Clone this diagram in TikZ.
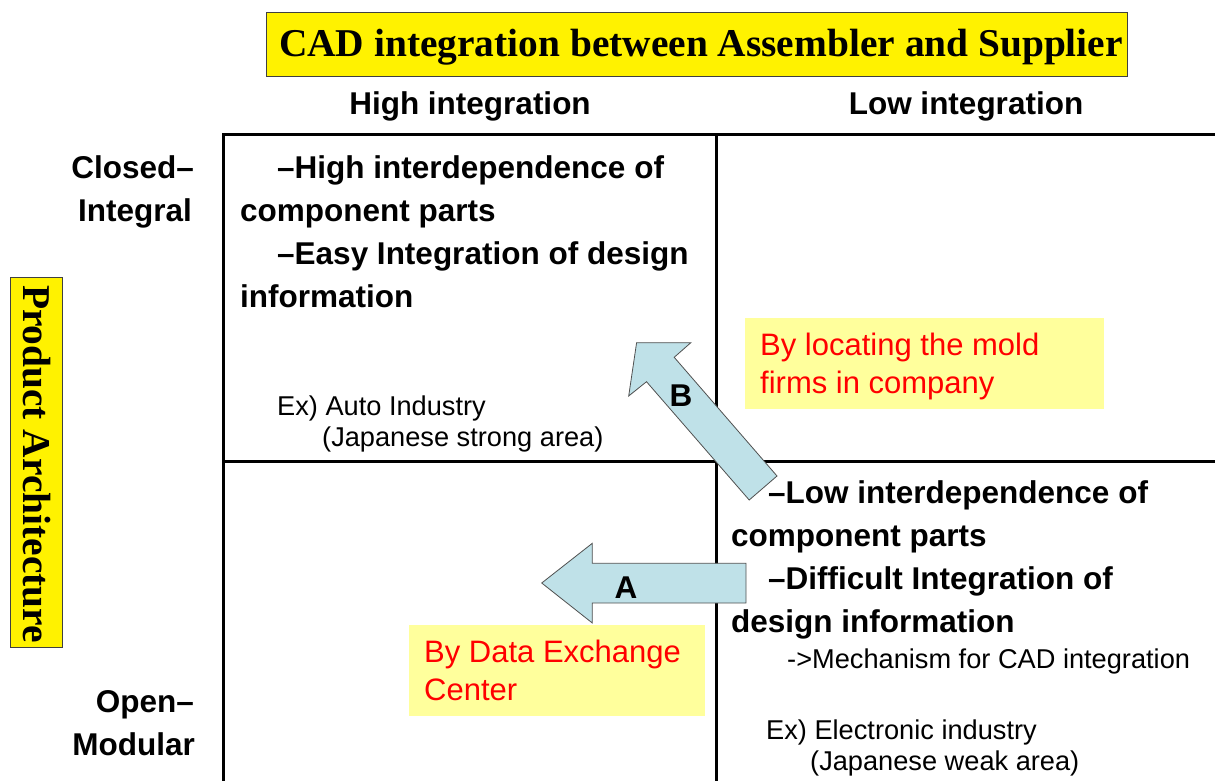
\documentclass[tikz,border=0pt]{standalone}
\usepackage{fontspec}
\setmainfont{Liberation Sans}
\newfontfamily\timesfont{Liberation Serif}
\usepackage{xcolor}

\definecolor{notefill}{HTML}{FFFF9C}
\definecolor{arrowfill}{HTML}{BFE1E8}
\definecolor{arrowline}{HTML}{505050}
\newcommand{\quadsize}{\fontsize{31.5}{37}\selectfont\bfseries}
\newcommand{\exsize}{\fontsize{27.2}{31}\selectfont}
\newcommand{\notesize}{\fontsize{31}{37}\selectfont}
\newcommand{\headsize}{\fontsize{39.4}{46}\selectfont\timesfont\bfseries}

\begin{document}
\begin{tikzpicture}[x=1pt, y=-1pt, inner sep=0pt,
  lbl/.style={anchor=base west, font=\quadsize},
  ex/.style={anchor=base west, font=\exsize},
  note/.style={anchor=base west, font=\notesize, text=red},
  gridline/.style={line width=3pt},
  blockarrow/.style={fill=arrowfill, draw=arrowline, line width=0.8pt, line join=miter}]
\useasboundingbox (0,0) rectangle (1215,781);

% title and axis boxes
\draw[fill=yellow, draw=darkgray, line width=1pt] (266,13) rectangle (1127,77);
\node[anchor=base, font=\headsize] (title) at (701,57) {CAD integration between Assembler and Supplier};
\draw[fill=yellow, draw=darkgray, line width=1pt] (10,277) rectangle (62,647);
\node[rotate=-90, font=\headsize] (prodarch) at (37,464) {Product Architecture};

\node[anchor=base, font=\quadsize] (hi) at (470,115) {High integration};
\node[anchor=base, font=\quadsize] (lo) at (966,115) {Low integration};
\node[anchor=base east, font=\quadsize] (closed) at (194,178) {Closed–};
\node[anchor=base east, font=\quadsize] (integral) at (192,221) {Integral};
\node[anchor=base east, font=\quadsize] (open) at (194,712) {Open–};
\node[anchor=base east, font=\quadsize] (modular) at (195,755) {Modular};

% grid
\draw[gridline] (223,781) -- (223,135) -- (1215,135);
\draw[gridline] (716,135) -- (716,781);
\draw[gridline] (223,461) -- (1215,461);

% closed-integral / high integration
\node[lbl] (tl1) at (277,178) {–High interdependence of};
\node[lbl] (tl2) at (240,221) {component parts};
\node[lbl] (tl3) at (277,264) {–Easy Integration of design};
\node[lbl] (tl4) at (240,307) {information};
\node[ex] (tlex1) at (277,415) {Ex) Auto Industry};
\node[ex] (tlex2) at (322,446) {(Japanese strong area)};

% open-modular / low integration
\node[lbl] (br1) at (768,503) {–Low interdependence of};
\node[lbl] (br2) at (731,546) {component parts};
\node[lbl] (br3) at (768,589) {–Difficult Integration of};
\node[lbl] (br4) at (731,632) {design information};
\node[ex] (brmech) at (787,668) {->Mechanism for CAD integration};
\node[ex] (brex1) at (766,739) {Ex) Electronic industry};
\node[ex] (brex2) at (810,770) {(Japanese weak area)};

% notes
\fill[notefill] (745,318) rectangle (1104,409);
\node[note] (noteB1) at (760,355) {By locating the mold};
\node[note] (noteB2) at (760,393) {firms in company};
\fill[notefill] (409,625) rectangle (705,716);
\node[note] (noteA1) at (424,662) {By Data Exchange};
\node[note] (noteA2) at (424,700) {Center};

% arrow A
\coordinate (a1) at (541.7,583);
\coordinate (a2) at (592.3,543.3);
\coordinate (a3) at (592.3,563.3);
\coordinate (a4) at (746,563.3);
\coordinate (a5) at (746,603);
\coordinate (a6) at (592.3,603);
\coordinate (a7) at (592.3,623);
\draw[blockarrow] (a1) -- (a2) -- (a3) -- (a4) -- (a5) -- (a6) -- (a7) -- cycle;
\node[anchor=base, font=\quadsize] (labA) at (626,598) {A};

% arrow B
\coordinate (b1) at (636.6,342.7);
\coordinate (b2) at (690.8,342.7);
\coordinate (b3) at (674.2,357.3);
\coordinate (b4) at (777,476);
\coordinate (b5) at (749.2,500);
\coordinate (b6) at (646.5,381.7);
\coordinate (b7) at (628.7,396);
\draw[blockarrow] (b1) -- (b2) -- (b3) -- (b4) -- (b5) -- (b6) -- (b7) -- cycle;
\node[anchor=base, font=\quadsize] (labB) at (681,406) {B};
\end{tikzpicture}
\end{document}
